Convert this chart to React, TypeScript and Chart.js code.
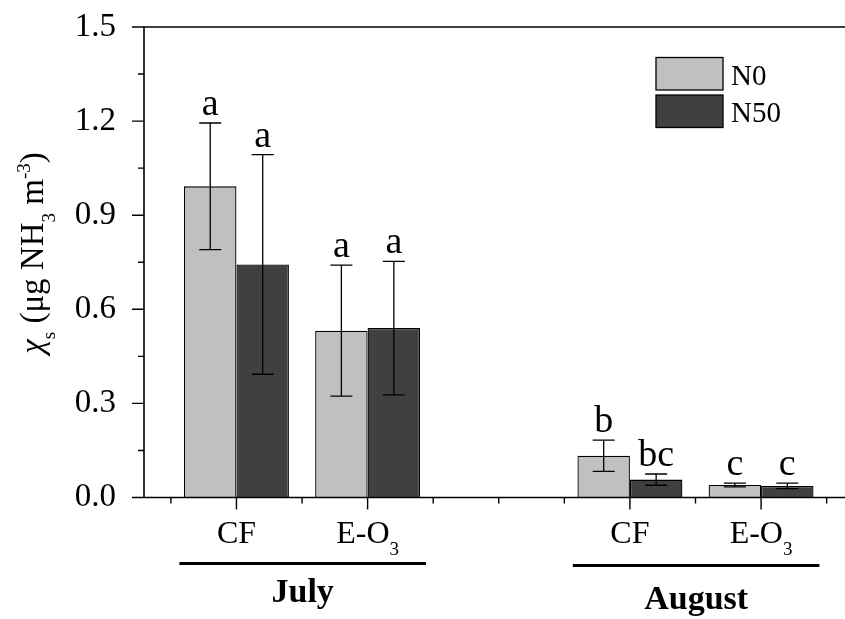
import React, { useEffect, useRef } from 'react';
import { Chart, registerables } from 'chart.js';

Chart.register(...registerables);

// ---- data ----
const categoryPositions = [2, 4, 8, 10];
const categoryLabels = ['CF', 'E-O3', 'CF', 'E-O3'];
const seriesNames = ['N0', 'N50'];
const n0Values = [0.992, 0.532, 0.133, 0.040];
const n50Values = [0.743, 0.540, 0.057, 0.037];
const n0Errors = [0.202, 0.209, 0.050, 0.006];
const n50Errors = [0.350, 0.213, 0.018, 0.009];
const n0Letters = ['a', 'a', 'b', 'c'];
const n50Letters = ['a', 'a', 'bc', 'c'];
const months = ['July', 'August'];
const monthCategoryIndex = [[0, 1], [2, 3]];
const yTickValues = [0, 0.3, 0.6, 0.9, 1.2, 1.5];
const xTickValues = [1, 2, 3, 4, 5, 6, 7, 8, 9, 10, 11];

const FONT = "'Liberation Serif', 'Times New Roman', serif";
const colors = ['#c0c0c0', '#404040'];

type Seg = { t: string; sub?: boolean; sup?: boolean; italic?: boolean };

function segmentsFor(label: string): Seg[] {
  const m = label.match(/^(.*[A-Za-z])(\d+)$/);
  return m ? [{ t: m[1] }, { t: m[2], sub: true }] : [{ t: label }];
}

function fontFor(s: Seg, size: number, weight: string) {
  const sz = s.sub || s.sup ? Math.round(size * 0.58) : size;
  return `${s.italic ? 'italic ' : ''}${weight} ${sz}px ${FONT}`;
}

function drawRich(ctx: CanvasRenderingContext2D, segs: Seg[], x: number, y: number, size: number, weight = 'normal') {
  const widths = segs.map((s) => {
    ctx.font = fontFor(s, size, weight);
    return ctx.measureText(s.t).width;
  });
  const total = widths.reduce((a, b) => a + b, 0);
  let cx = x - total / 2;
  ctx.textAlign = 'left';
  ctx.textBaseline = 'alphabetic';
  segs.forEach((s, i) => {
    ctx.font = fontFor(s, size, weight);
    const dy = s.sub ? size * 0.36 : s.sup ? -size * 0.4 : 0;
    ctx.fillText(s.t, cx, y + dy);
    cx += widths[i];
  });
}

const overlayPlugin = {
  id: 'overlay',
  afterDatasetsDraw(chart: any) {
    const ctx: CanvasRenderingContext2D = chart.ctx;
    const ys = chart.scales.y;
    const series = [
      { values: n0Values, errors: n0Errors, letters: n0Letters },
      { values: n50Values, errors: n50Errors, letters: n50Letters },
    ];
    ctx.save();
    ctx.strokeStyle = '#000';
    ctx.fillStyle = '#000';
    ctx.lineWidth = 1.3;
    series.forEach((s, di) => {
      const meta = chart.getDatasetMeta(di);
      meta.data.forEach((bar: any, i: number) => {
        const cx = bar.x;
        const hi = ys.getPixelForValue(s.values[i] + s.errors[i]);
        const lo = ys.getPixelForValue(s.values[i] - s.errors[i]);
        ctx.beginPath();
        ctx.moveTo(cx, hi);
        ctx.lineTo(cx, lo);
        ctx.moveTo(cx - 11, hi);
        ctx.lineTo(cx + 11, hi);
        ctx.moveTo(cx - 11, lo);
        ctx.lineTo(cx + 11, lo);
        ctx.stroke();
        ctx.font = `38px ${FONT}`;
        ctx.textAlign = 'center';
        ctx.textBaseline = 'alphabetic';
        ctx.fillText(s.letters[i], cx, hi - 8);
      });
    });
    ctx.restore();
  },
  afterDraw(chart: any) {
    const ctx: CanvasRenderingContext2D = chart.ctx;
    const xs = chart.scales.x;
    const ys = chart.scales.y;
    const { left, right, top, bottom } = chart.chartArea;
    ctx.save();
    ctx.strokeStyle = '#000';
    ctx.fillStyle = '#000';
    ctx.lineWidth = 1.6;
    // axis lines
    ctx.beginPath();
    ctx.moveTo(left, bottom);
    ctx.lineTo(left, top);
    ctx.lineTo(right, top);
    ctx.moveTo(left, bottom);
    ctx.lineTo(right, bottom);
    ctx.stroke();
    // y ticks
    ctx.lineWidth = 1.4;
    ctx.beginPath();
    yTickValues.forEach((v, i) => {
      const py = ys.getPixelForValue(v);
      ctx.moveTo(left, py);
      ctx.lineTo(left - 12, py);
      if (i < yTickValues.length - 1) {
        const pm = ys.getPixelForValue((v + yTickValues[i + 1]) / 2);
        ctx.moveTo(left, pm);
        ctx.lineTo(left - 6, pm);
      }
    });
    // x ticks
    xTickValues.forEach((v) => {
      const px = xs.getPixelForValue(v);
      const major = categoryPositions.includes(v);
      ctx.moveTo(px, bottom);
      ctx.lineTo(px, bottom + (major ? 12 : 6));
    });
    ctx.stroke();
    // x category labels
    categoryLabels.forEach((lab, i) => {
      const px = xs.getPixelForValue(categoryPositions[i]);
      drawRich(ctx, segmentsFor(lab), px, bottom + 45.5, 32);
    });
    // month groups
    const lineDrop = [0, 2];
    const labelDrop = [0, 7];
    months.forEach((m, gi) => {
      const [a, b] = monthCategoryIndex[gi];
      const x1 = xs.getPixelForValue(categoryPositions[a] - 0.87);
      const x2 = xs.getPixelForValue(categoryPositions[b] + 0.89);
      ctx.lineWidth = 3;
      ctx.beginPath();
      ctx.moveTo(x1, bottom + 66 + lineDrop[gi]);
      ctx.lineTo(x2, bottom + 66 + lineDrop[gi]);
      ctx.stroke();
      ctx.font = `bold 34px ${FONT}`;
      ctx.textAlign = 'center';
      ctx.textBaseline = 'alphabetic';
      ctx.fillText(m, (x1 + x2) / 2, bottom + 104 + labelDrop[gi]);
    });
    // y title
    ctx.save();
    ctx.translate(43, 253);
    ctx.rotate(-Math.PI / 2);
    drawRich(
      ctx,
      [
        { t: 'χ', italic: true },
        { t: 's', sub: true },
        { t: ' (μg NH' },
        { t: '3', sub: true },
        { t: ' m' },
        { t: '-3', sup: true },
        { t: ')' },
      ],
      0,
      0,
      33
    );
    ctx.restore();
    // legend
    const lx = right - 189;
    const ly = top + 30.5;
    seriesNames.forEach((name, i) => {
      const by = ly + i * 37.5;
      ctx.fillStyle = colors[i];
      ctx.fillRect(lx, by, 67, 32.5);
      ctx.lineWidth = 1.3;
      ctx.strokeStyle = '#000';
      ctx.strokeRect(lx, by, 67, 32.5);
      ctx.fillStyle = '#000';
      ctx.font = `29px ${FONT}`;
      ctx.textAlign = 'left';
      ctx.textBaseline = 'alphabetic';
      ctx.fillText(name, lx + 75, by + 27);
    });
    ctx.restore();
  },
};

export default function App() {
  const ref = useRef<HTMLCanvasElement>(null);
  useEffect(() => {
    document.body.style.margin = '0';
    const canvas = ref.current!;
    const chart = new Chart(canvas, {
      type: 'bar',
      data: {
        datasets: [
          {
            label: seriesNames[0],
            data: categoryPositions.map((x, i) => ({ x, y: n0Values[i] })),
            backgroundColor: colors[0],
            borderColor: '#000',
            borderWidth: 1.3,
          },
          {
            label: seriesNames[1],
            data: categoryPositions.map((x, i) => ({ x, y: n50Values[i] })),
            backgroundColor: colors[1],
            borderColor: '#000',
            borderWidth: 1.3,
          },
        ],
      },
      options: {
        animation: false,
        responsive: false,
        maintainAspectRatio: false,
        layout: { padding: { top: 27, right: 0, left: 0, bottom: 0 } },
        datasets: { bar: { categoryPercentage: 1.6, barPercentage: 1 } },
        plugins: { legend: { display: false }, tooltip: { enabled: false } },
        scales: {
          x: {
            type: 'linear',
            offset: false,
            min: 0.59,
            max: 11.28,
            grid: { display: false, offset: false },
            border: { display: false },
            ticks: { display: false },
            afterBuildTicks: (s: any) => {
              s.ticks = xTickValues.map((v) => ({ value: v }));
            },
            afterFit: (s: any) => {
              s.height = 121.5;
              s.paddingLeft = 0;
              s.paddingRight = 0;
            },
          },
          y: {
            min: 0,
            max: 1.5,
            grid: { display: false },
            border: { display: false },
            afterBuildTicks: (s: any) => {
              s.ticks = yTickValues.map((v) => ({ value: v }));
            },
            ticks: {
              padding: 20,
              color: '#000',
              font: { family: FONT, size: 33 },
              callback: (v: any) => Number(v).toFixed(1),
            },
            afterFit: (s: any) => {
              s.width = 144;
              s.paddingTop = 0;
              s.paddingBottom = 0;
            },
          },
        },
      } as any,
      plugins: [overlayPlugin],
    });
    return () => chart.destroy();
  }, []);
  return (
    <div style={{ width: 845, height: 619 }}>
      <canvas ref={ref} width={845} height={619} style={{ display: 'block' }} />
    </div>
  );
}
